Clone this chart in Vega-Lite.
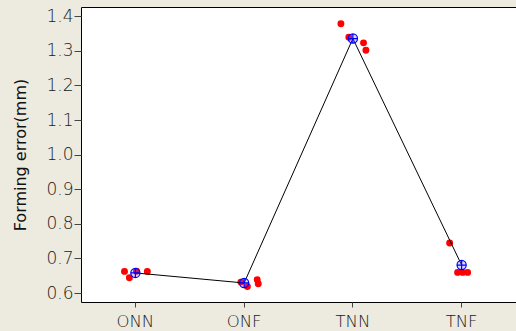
{
  "$schema": "https://vega.github.io/schema/vega-lite/v6.json",
  "width": 435,
  "height": 295,
  "autosize": {"type": "none"},
  "padding": {"left": 81, "top": 7, "right": 0, "bottom": 29},
  "background": "#EDEAE0",
  "config": {
    "view": {"fill": "#FFFFFF", "stroke": "#000000", "strokeWidth": 1},
    "font": "DejaVu Sans"
  },
  "data": {
    "values": [
      {"cond": "ONN", "jitter": -0.10, "error": 0.6625},
      {"cond": "ONN", "jitter": -0.055, "error": 0.644},
      {"cond": "ONN", "jitter": 0.11, "error": 0.6625},
      {"cond": "ONN", "jitter": 0.01, "error": 0.663},
      {"cond": "ONF", "jitter": 0.03, "error": 0.619},
      {"cond": "ONF", "jitter": 0.12, "error": 0.6385},
      {"cond": "ONF", "jitter": 0.13, "error": 0.627},
      {"cond": "ONF", "jitter": -0.03, "error": 0.6315},
      {"cond": "TNN", "jitter": -0.11, "error": 1.378},
      {"cond": "TNN", "jitter": -0.037, "error": 1.339},
      {"cond": "TNN", "jitter": 0.098, "error": 1.323},
      {"cond": "TNN", "jitter": 0.12, "error": 1.3017},
      {"cond": "TNF", "jitter": -0.11, "error": 0.7446},
      {"cond": "TNF", "jitter": -0.037, "error": 0.6596},
      {"cond": "TNF", "jitter": 0.01, "error": 0.6596},
      {"cond": "TNF", "jitter": 0.055, "error": 0.6596}
    ]
  },
  "encoding": {
    "x": {
      "field": "cond",
      "type": "nominal",
      "sort": ["ONN", "ONF", "TNN", "TNF"],
      "scale": {"type": "band", "paddingInner": 0, "paddingOuter": 0},
      "axis": {
        "title": null,
        "labelAngle": 0,
        "labelFontSize": 16.5,
        "labelFontWeight": 300,
        "labelColor": "#1A1A1A",
        "labelPadding": 6,
        "tickColor": "#444444",
        "tickSize": 5,
        "domain": false
      }
    },
    "y": {
      "field": "error",
      "type": "quantitative",
      "scale": {"domain": [0.574, 1.4266], "nice": false, "zero": false},
      "axis": {
        "title": "Forming error(mm)",
        "titleFontSize": 16,
        "titleFontWeight": "normal",
        "titleColor": "#111111",
        "titlePadding": 17,
        "values": [0.6, 0.7, 0.8, 0.9, 1.0, 1.1, 1.2, 1.3, 1.4],
        "format": ".1f",
        "labelFontSize": 17,
        "labelFontWeight": 300,
        "labelColor": "#1A1A1A",
        "labelPadding": 1,
        "tickColor": "#444444",
        "tickSize": 7,
        "grid": false,
        "domain": false
      }
    }
  },
  "layer": [
    {
      "mark": {"type": "point", "filled": true, "shape": "circle", "size": 48, "color": "#FF0000", "opacity": 1},
      "encoding": {
        "xOffset": {"field": "jitter", "type": "quantitative", "scale": {"domain": [-0.5, 0.5]}}
      }
    },
    {
      "mark": {"type": "line", "color": "#000000", "strokeWidth": 1},
      "encoding": {
        "y": {"aggregate": "mean", "field": "error", "type": "quantitative"}
      }
    },
    {
      "mark": {
        "type": "point",
        "shape": "M -1 0 A 1 1 0 1 0 1 0 A 1 1 0 1 0 -1 0 Z M -1 0 L 1 0 M 0 -1 L 0 1",
        "size": 85,
        "filled": false,
        "stroke": "#0000FF",
        "strokeWidth": 1.2,
        "fill": "#6666FF",
        "fillOpacity": 0.25,
        "opacity": 1
      },
      "encoding": {
        "y": {"aggregate": "mean", "field": "error", "type": "quantitative"}
      }
    }
  ]
}
